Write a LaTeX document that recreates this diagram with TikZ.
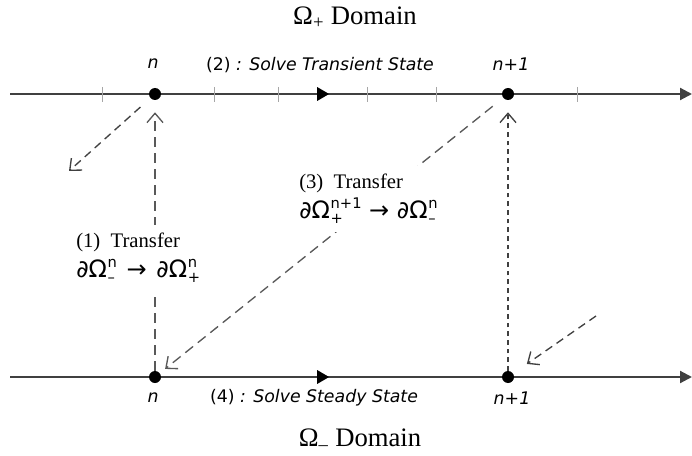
\documentclass[tikz,border=0pt]{standalone}
\usepackage{fontspec}
\setmainfont{Liberation Serif}
\newfontfamily\sansfont{DejaVu Sans}
\usetikzlibrary{arrows.meta,decorations.markings}

% super- and subscript on a boundary symbol
\newcommand\bnd[2]{\kern0.5pt{\fontsize{11}{11}\selectfont
  \ooalign{\raisebox{7.5pt}{#1}\hfil\cr\raisebox{-4pt}{#2}\hfil\cr}}}

\tikzset{
  timeaxis/.style={draw=black!75, line width=1.6pt,
    -{Triangle[length=9pt,width=9pt]},
    postaction={decorate},
    decoration={markings, mark=at position 0.468 with {\arrow[black]{Triangle[length=9pt,width=10pt]}}}},
  instant/.style={circle, fill=black, inner sep=0pt, minimum size=9pt},
  axistick/.style={draw=black!35, line width=0.7pt},
  timelabel/.style={font=\sansfont\fontsize{13}{15}\selectfont},
  domainlabel/.style={font=\fontsize{20}{24}\selectfont},
  transferlabel/.style={fill=white, align=left, inner sep=6pt, font=\fontsize{15.5}{22}\selectfont},
  barb/.style={-{Straight Barb[length=7pt,width=12pt]}},
  longdash/.style={barb, draw=black!65, line width=1pt, dash pattern=on 7.5pt off 4.5pt},
  finedash/.style={barb, draw=black!75, line width=1pt, dash pattern=on 3.5pt off 3pt},
  shortdash/.style={barb, draw=black!75, line width=1pt, dash pattern=on 6pt off 4pt}
}

\begin{document}
\begin{tikzpicture}[x=0.75pt, y=-0.75pt]
  \useasboundingbox (0,0) rectangle (692,456);
  % Achsen
  \draw [timeaxis] (10, 94) -- (692, 94);
  \draw [timeaxis] (10,377) -- (692,377);
  \foreach \tx in {102,214,278,367,436,577}
    \draw [axistick] (\tx,87) -- (\tx,102);
  % Zeitpunkte
  \node [instant] (tn)  at (155, 94) {};
  \node [instant] (tnp) at (508, 94) {};
  \node [instant] (bn)  at (155,377) {};
  \node [instant] (bnp) at (508,377) {};
  \coordinate (leftout) at (69,171);
  \coordinate (rightin) at (596,316);
  % Beschriftungen
  \node [domainlabel] (topdom) at (355, 18) {Ω\textsubscript{+} Domain};
  \node [domainlabel] (botdom) at (360,440) {Ω\textsubscript{–} Domain};
  \node [timelabel] (tnl)  at (153, 64) {\itshape n};
  \node [timelabel] (tnpl) at (511, 64) {\itshape n+1};
  \node [timelabel] (bnl)  at (153,398) {\itshape n};
  \node [timelabel] (bnpl) at (512,398) {\itshape n+1};
  \node [timelabel] (solvetop) at (320, 65) {(2) \itshape : Solve Transient State};
  \node [timelabel] (solvebot) at (314,398) {(4) \itshape : Solve Steady State};
  % Transfer
  \draw [longdash, shorten >=9pt] (bn) -- (tn);
  \draw [finedash, shorten >=9pt] (bnp) -- (tnp);
  \draw [longdash, shorten <=10pt, shorten >=5pt] (tnp) -- (bn);
  \draw [shortdash, shorten <=10pt] (tn) -- (leftout);
  \draw [shortdash, shorten >=12.5pt] (rightin) -- (bnp);
  \node [transferlabel, anchor=west] (tr1) at (68,258)
    {(1)~~Transfer\\{\sansfont\fontsize{18}{18}\selectfont ∂Ω\bnd{n}{–}\kern1.5pt{} → \kern1.5pt∂Ω\bnd{n}{+}}};
  \node [transferlabel, anchor=west] (tr3) at (291,199)
    {(3)~~Transfer\\{\sansfont\fontsize{18}{18}\selectfont ∂Ω\bnd{n+1}{+} → ∂Ω\bnd{n}{–}}};
\end{tikzpicture}
\end{document}
